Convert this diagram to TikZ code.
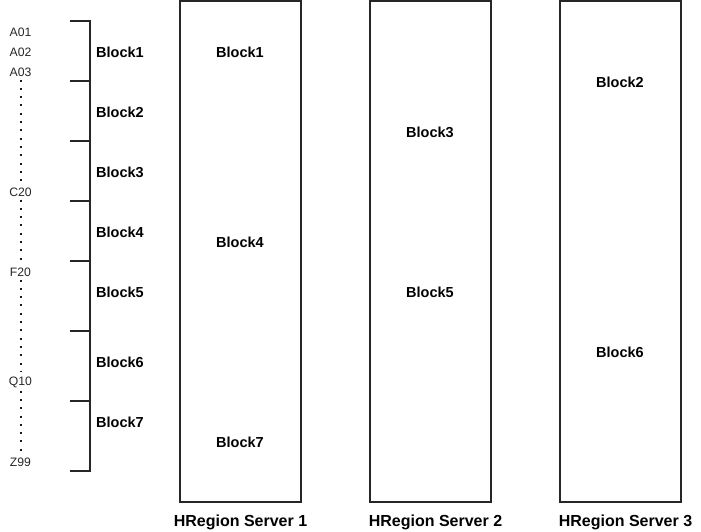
\documentclass[tikz,border=0pt]{standalone}
\usepackage{fontspec}
\setmainfont{Liberation Sans}
\begin{document}
\begin{tikzpicture}[x=1pt,y=-1pt,
  server/.style={draw=black!85, line width=1.5pt, minimum width=121pt, minimum height=501pt, inner sep=0pt},
  blk/.style={font=\fontsize{14.5}{17}\selectfont\bfseries, inner sep=1pt},
  slabel/.style={font=\fontsize{16}{19}\selectfont\bfseries, inner sep=1pt},
  key/.style={font=\fontsize{12.2}{14}\selectfont, inner sep=1pt, text=black!85},
  bracket/.style={draw=black!85, line width=2pt},
  dotline/.style={draw=black!90, line width=2pt, dash pattern=on 2pt off 6.3pt},
]
\useasboundingbox (0,0) rectangle (701,532);

% servers
\node[server] (s1) at (240.5,251.5) {};
\node[server] (s2) at (430.5,251.5) {};
\node[server] (s3) at (620.5,251.5) {};
\node[slabel] (l1) at (240.5,522) {HRegion Server 1};
\node[slabel] (l2) at (435.5,522) {HRegion Server 2};
\node[slabel] (l3) at (625.5,522) {HRegion Server 3};

% blocks in servers
\node[blk] (s1b1) at (240,52) {Block1};
\node[blk] (s1b4) at (240,242) {Block4};
\node[blk] (s1b7) at (240,442) {Block7};
\node[blk] (s2b3) at (430,132) {Block3};
\node[blk] (s2b5) at (430,292) {Block5};
\node[blk] (s3b2) at (620,82) {Block2};
\node[blk] (s3b6) at (620,352) {Block6};

% bracket
\coordinate (t0) at (90,21);
\coordinate (t1) at (90,81);
\coordinate (t2) at (90,141);
\coordinate (t3) at (90,201);
\coordinate (t4) at (90,261);
\coordinate (t5) at (90,331);
\coordinate (t6) at (90,401);
\coordinate (t7) at (90,471);
\draw[bracket] ([xshift=-20pt]t0) -- (t0) -- (t7) -- ([xshift=-20pt]t7);
\foreach \t in {t1,t2,t3,t4,t5,t6} \draw[bracket] ([xshift=-20pt]\t) -- (\t);

\node[blk] (b1) at (120,52) {Block1};
\node[blk] (b2) at (120,112) {Block2};
\node[blk] (b3) at (120,172) {Block3};
\node[blk] (b4) at (120,232) {Block4};
\node[blk] (b5) at (120,292) {Block5};
\node[blk] (b6) at (120,362) {Block6};
\node[blk] (b7) at (120,422) {Block7};

% keys
\node[key] (a01) at (20.5,32) {A01};
\node[key] (a02) at (20.5,52) {A02};
\node[key] (a03) at (20.5,72) {A03};
\node[key] (c20) at (20.5,192) {C20};
\node[key] (f20) at (20.5,272) {F20};
\node[key] (q10) at (20.5,382) {Q10};
\node[key] (z99) at (20.5,462) {Z99};

\draw[dotline] ([yshift=-2pt]a03.south) -- ([yshift=3pt]c20.north);
\draw[dotline] ([yshift=-2pt]c20.south) -- ([yshift=3pt]f20.north);
\draw[dotline] ([yshift=-2pt]f20.south) -- ([yshift=3pt]q10.north);
\draw[dotline] ([yshift=-2pt]q10.south) -- ([yshift=3pt]z99.north);
\end{tikzpicture}
\end{document}
